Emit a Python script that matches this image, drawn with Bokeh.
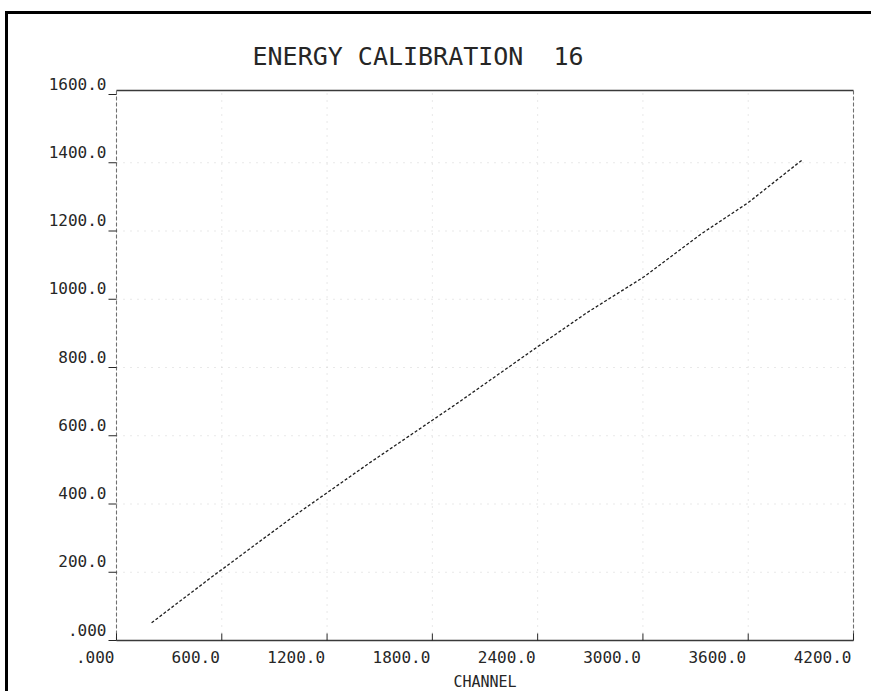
from bokeh.plotting import figure
from bokeh.models import ColumnDataSource
from bokeh.core.properties import value
from bokeh.embed import file_html
from bokeh.resources import INLINE

# ---- data ----
channel = [200, 540, 1020, 1441, 1950, 2378, 2682, 3004, 3328, 3597, 3912]
energy = [52, 185, 368, 520, 698, 853, 961, 1065, 1190, 1282, 1410]

x_ticks = [0, 600, 1200, 1800, 2400, 3000, 3600, 4200]
x_tick_labels = [".000", "600.0", "1200.0", "1800.0", "2400.0", "3000.0", "3600.0", "4200.0"]
y_ticks = [0, 200, 400, 600, 800, 1000, 1200, 1400, 1600]
y_tick_labels = [".000", "200.0", "400.0", "600.0", "800.0", "1000.0", "1200.0", "1400.0", "1600.0"]

title_text = "ENERGY CALIBRATION \u00a016"
x_title = "CHANNEL"

# ---- layout (pixels on the page) ----
FONT = "DejaVu Sans Mono"
INK = "#262626"
BORDER = 3
W, H = 866, 680          # canvas size
CANVAS_X, CANVAS_Y = 8, 14   # canvas origin on page (margin + border)
TOP_PANEL = 60           # title panel height
PX_LEFT, PX_RIGHT = 116, 853   # page x of x=0 and x=4200
PX_ZERO, PX_1600 = 640, 94     # page y of y=0 and y=1600
PX_FRAME_TOP = 90

sx = (PX_RIGHT - PX_LEFT) / (x_ticks[-1] - x_ticks[0])
sy = (PX_ZERO - PX_1600) / (y_ticks[-1] - y_ticks[0])
x_start = x_ticks[0] - (PX_LEFT - CANVAS_X) / sx
x_end = x_ticks[0] + (CANVAS_X + W - PX_LEFT) / sx
frame_top_page = CANVAS_Y + TOP_PANEL
y_start = y_ticks[0] - (CANVAS_Y + H - PX_ZERO) / sy
y_end = y_ticks[0] + (PX_ZERO - frame_top_page) / sy
y_top = y_ticks[0] + (PX_ZERO - PX_FRAME_TOP) / sy
x_lo, x_hi = x_ticks[0], x_ticks[-1]
y_lo = y_ticks[0]

p = figure(output_backend="svg", toolbar_location=None,
           width=W, height=H,
           x_range=(x_start, x_end), y_range=(y_start, y_end),
           min_border_left=0, min_border_right=0,
           min_border_top=TOP_PANEL, min_border_bottom=0,
           title=title_text)
p.styles = {"margin-left": "5px", "margin-top": "11px",
            "border-left": f"{BORDER}px solid black", "border-top": f"{BORDER}px solid black"}
p.axis.visible = False
p.grid.visible = False
p.outline_line_color = None
p.background_fill_color = "white"
p.border_fill_color = "white"

p.title.text_font = FONT
p.title.text_font_size = "25px"
p.title.text_font_style = "normal"
p.title.text_color = INK
p.title.align = "left"
p.title.offset = 244
p.title.standoff = 8

# faint dotted grid
p.segment(x0=x_ticks[1:-1], x1=x_ticks[1:-1], y0=[y_lo] * (len(x_ticks) - 2),
          y1=[y_top] * (len(x_ticks) - 2), line_color="#d2d2d2", line_dash="1 6", line_width=1)
p.segment(x0=[x_lo] * (len(y_ticks) - 2), x1=[x_hi] * (len(y_ticks) - 2),
          y0=y_ticks[1:-1], y1=y_ticks[1:-1], line_color="#d2d2d2", line_dash="1 6", line_width=1)

# plot frame: solid top/bottom, faint dashed sides
p.segment(x0=[x_lo, x_lo], x1=[x_hi, x_hi], y0=[y_lo, y_top], y1=[y_lo, y_top],
          line_color="#3a3a3a", line_width=1.3)
p.segment(x0=[x_lo, x_hi], x1=[x_lo, x_hi], y0=[y_lo, y_lo], y1=[y_top, y_top],
          line_color="#707070", line_width=1.1, line_dash="4 2")

# tick marks: x inside (7px), y outside (8px)
p.segment(x0=x_ticks, x1=x_ticks, y0=[y_lo] * len(x_ticks),
          y1=[y_lo + 7 / sy] * len(x_ticks), line_color=INK, line_width=1)
p.segment(x0=[x_lo] * len(y_ticks), x1=[x_lo - 8 / sx] * len(y_ticks),
          y0=y_ticks, y1=y_ticks, line_color=INK, line_width=1)

# tick labels in the plotter style
xsrc = ColumnDataSource(dict(x=x_ticks, y=[y_lo] * len(x_ticks), text=x_tick_labels))
ysrc = ColumnDataSource(dict(x=[x_lo] * len(y_ticks), y=y_ticks, text=y_tick_labels))
p.text(x="x", y="y", text="text", source=xsrc, x_offset=-2, y_offset=16,
       text_align="right", text_baseline="alphabetic", text_font=value(FONT),
       text_font_size="16px", text_color=INK)
p.text(x="x", y="y", text="text", source=ysrc, x_offset=-10, y_offset=-11,
       text_align="right", text_baseline="alphabetic", text_font=value(FONT),
       text_font_size="16px", text_color=INK)
p.text(x=[(x_lo + x_hi) / 2], y=[y_lo], text=[x_title], x_offset=0, y_offset=41,
       text_align="center", text_baseline="alphabetic", text_font=value(FONT),
       text_font_size="15px", text_color=INK)

# calibration curve
p.line(channel, energy, line_color="#1e1e1e", line_width=1.3, line_dash="3 2")

open("out.html", "w").write(file_html(p, INLINE))
